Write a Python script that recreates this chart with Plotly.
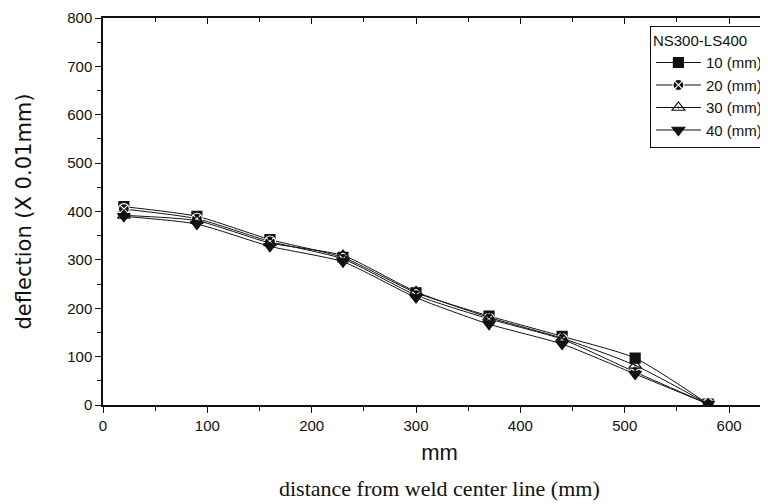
import plotly.graph_objects as go

# Data
distance_mm = [20, 90, 160, 230, 300, 370, 440, 510, 580]
series_names = ["10 (mm)", "20 (mm)", "30 (mm)", "40 (mm)"]
defl_10 = [410, 390, 342, 305, 232, 184, 142, 97, 2]
defl_20 = [405, 385, 338, 302, 227, 178, 136, 68, 2]
defl_30 = [392, 381, 335, 309, 234, 181, 138, 82, 2]
defl_40 = [390, 374, 328, 296, 222, 167, 126, 64, 2]
legend_title = "NS300-LS400"
x_ticks = [0, 100, 200, 300, 400, 500, 600]
y_ticks = [0, 100, 200, 300, 400, 500, 600, 700, 800]

series = [defl_10, defl_20, defl_30, defl_40]
symbols = ["square", "circle-x", "triangle-up-open-dot", "triangle-down"]
msizes = [10, 11, 11, 11]
mline = ["#111111", "#ffffff", "#111111", "#111111"]

INK = "#111111"
SANS = "Liberation Sans, Arial, sans-serif"
WIDE = "DejaVu Sans, Liberation Sans, sans-serif"
SERIF = "Liberation Serif, Times New Roman, serif"

fig = go.Figure()
for name, vals, sym, ms, ml in zip(series_names, series, symbols, msizes, mline):
    fig.add_trace(go.Scatter(
        x=distance_mm, y=vals, name=name, mode="lines+markers",
        line=dict(color=INK, width=1, shape="spline", smoothing=0.6),
        marker=dict(symbol=sym, size=ms, color=INK,
                    line=dict(color=ml, width=1.2)),
    ))

# empty trace to carry the mirrored top/right axes
fig.add_trace(go.Scatter(x=[None], y=[None], xaxis="x2", yaxis="y2",
                         showlegend=False, hoverinfo="skip"))

axis_common = dict(showgrid=False, zeroline=False, showline=True,
                   linecolor=INK, linewidth=1.5)
XR = [0, 645]
YR = [0, 800]

fig.update_layout(
    width=768, height=504,
    margin=dict(l=95, r=0, t=10, b=107),
    paper_bgcolor="white", plot_bgcolor="white",
    font=dict(family=SANS, color=INK, size=15),
    xaxis=dict(range=XR, tickvals=x_ticks, ticks="outside",
               ticklen=6, tickwidth=1.2, tickcolor=INK,
               minor=dict(dtick=50, ticks="outside", ticklen=4,
                          tickcolor=INK, tickwidth=1),
               tickfont=dict(size=15, family=SANS, color=INK),
               title=dict(text="mm", font=dict(size=22, family=SANS,
                                                color=INK), standoff=12),
               **axis_common),
    yaxis=dict(range=YR, tickvals=y_ticks, ticks="outside",
               ticklen=6, tickwidth=1.2, tickcolor=INK,
               minor=dict(dtick=50, ticks="outside", ticklen=4,
                          tickcolor=INK, tickwidth=1),
               tickfont=dict(size=15, family=SANS, color=INK),
               title=dict(text="deflection (X 0.01mm)",
                          font=dict(size=21, family=WIDE, color=INK),
                          standoff=30),
               **axis_common),
    xaxis2=dict(overlaying="x", side="top", matches="x", range=XR,
                tickvals=x_ticks, ticks="inside", ticklen=6,
                tickcolor=INK, tickwidth=1.2, showticklabels=False,
                minor=dict(dtick=50, ticks="inside", ticklen=4,
                           tickcolor=INK, tickwidth=1),
                **axis_common),
    yaxis2=dict(overlaying="y", side="right", matches="y", range=YR,
                tickvals=y_ticks, ticks="inside", ticklen=6,
                tickcolor=INK, tickwidth=1.2, showticklabels=False,
                minor=dict(dtick=50, ticks="inside", ticklen=4,
                           tickcolor=INK, tickwidth=1),
                **axis_common),
    legend=dict(title=dict(text=legend_title,
                           font=dict(size=15, family=SANS, color=INK)),
                x=0.988, y=0.98, xanchor="right", yanchor="top",
                bgcolor="white", bordercolor=INK, borderwidth=1,
                font=dict(size=15, family=SANS, color=INK),
                itemwidth=45, tracegroupgap=0),
    annotations=[dict(text="distance from weld center line (mm)",
                      xref="paper", yref="paper", x=0.5, y=0,
                      xanchor="center", yanchor="middle", yshift=-83,
                      showarrow=False,
                      font=dict(size=22, family=SERIF, color=INK))],
    showlegend=True,
)

fig.write_html("out.html")
